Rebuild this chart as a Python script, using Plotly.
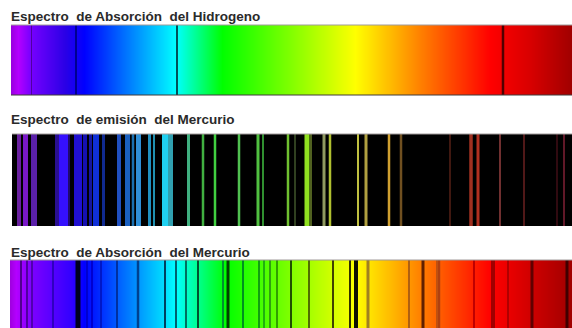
import plotly.graph_objects as go

titles = ["Espectro\u00a0 de Absorción\u00a0 del Hidrogeno",
          "Espectro\u00a0 de emisión\u00a0 del Mercurio",
          "Espectro\u00a0 de Absorción\u00a0 del Mercurio"]

# Hydrogen absorption
h_stops = [11, 18, 30, 65, 84, 130, 176, 222, 290, 355, 420, 490, 530, 572]
h_colors = ["#9a00e0", "#b400ff", "#7800ff", "#2a00e6", "#0000ff", "#0080ff", "#00ffff", "#00ff00",
            "#80ff00", "#ffff00", "#ff8000", "#ff0000", "#d80000", "#a00000"]
h_pos = [31.5, 76, 177, 503]
h_wid = [1, 1.5, 1.5, 2.5]
h_col = ["#5000a0", "#000090", "#00505a", "#500000"]

# Mercury emission
e_stops = [12, 572]
e_colors = ["#000000", "#000000"]
e_pos = [19, 25.5, 34, 57, 63.5, 69, 78, 85, 90.5, 96, 103.5, 119, 127.5, 133, 138.5, 149.5, 154,
         165, 170.5, 188.5, 203, 215, 239, 258, 263, 288, 295, 307, 311, 324, 330, 358, 366,
         389, 401, 450, 471, 478, 500, 524, 557, 564]
e_wid = [4, 5, 6, 4, 9, 2, 8, 4, 3, 6, 3, 4, 5, 2.5, 5, 3, 2, 6, 5, 3, 2.5, 2.5, 2.5, 3, 2, 2.5, 2, 5, 2,
         3, 2.5, 2, 3, 2.5, 2.5, 1.5, 3.5, 3, 2, 2, 1, 2]
e_col = ["#6a20a0", "#7a18c8", "#5a20a8", "#2a1090", "#3510ff", "#200a70", "#2010d0", "#1510b0", "#1515a0",
         "#1030d8", "#102a90", "#2050c0", "#1a60c0", "#1a70b0", "#3090d8", "#2090c0", "#2090b0",
         "#20d0f0", "#30a0b0", "#40b080", "#40b040", "#40d040", "#50c050", "#50c040", "#309030",
         "#70c030", "#304020", "#90e020", "#506020", "#909a60", "#b0c030", "#c0c040", "#b0a040",
         "#d0a030", "#705020", "#401810", "#a03020", "#b03020", "#703030", "#501818", "#300a10", "#601828"]

# Mercury absorption
m_stops = [10, 16, 30, 72, 84, 130, 176, 225, 290, 355, 420, 490, 530, 572]
m_colors = ["#a000e0", "#b400ff", "#8000ff", "#3000ff", "#0000ff", "#0080ff", "#00ffff", "#00ff00",
            "#80ff00", "#ffff00", "#ff8000", "#ff0000", "#d00000", "#a00000"]
m_pos = [21, 27, 32, 53, 78, 87, 92, 101, 117, 138, 165, 176, 186, 198, 223, 228, 243, 259, 264, 270, 277,
         291, 309, 333, 350, 356, 368, 409, 423, 437, 439.5, 474, 493, 508, 532, 567]
m_wid = [2, 1.5, 1.5, 1, 5, 1.5, 1, 1, 2, 2.5, 1, 2, 1.5, 1.5, 1, 3, 1, 1, 1, 1, 1, 2, 1, 2, 2, 4, 3, 2, 3,
         2, 1.5, 1, 4, 1, 3, 3]
m_col = ["#500090", "#5000a0", "#5000b0", "#3000c0", "#000020", "#0000d0", "#0000d0", "#0018c8", "#0030a0",
         "#004090", "#004060", "#006070", "#007060", "#005030", "#009030", "#004000", "#009020", "#10a010",
         "#20b010", "#30a010", "#30a000", "#205000", "#507000", "#404000", "#303000", "#101000", "#a08020",
         "#b06010", "#602000", "#c05010", "#b04010", "#c00000", "#a00000", "#b00000", "#600000", "#400000"]

W, H = 572, 328
panels = [
    (h_stops, h_colors, h_pos, h_wid, h_col, 25, 95, 11, 25),
    (e_stops, e_colors, e_pos, e_wid, e_col, 134, 226, 12, 128),
    (m_stops, m_colors, m_pos, m_wid, m_col, 260, 328, 10, 261),
]

fig = go.Figure()
layout = {}
shapes = []
annotations = []
for i, (stops, colors, pos, wid, col, top, bottom, left, base) in enumerate(panels):
    n = "" if i == 0 else str(i + 1)
    xa, ya = "x" + n, "y" + n
    span = stops[-1] - stops[0]
    scale = [[(s - stops[0]) / span, c] for s, c in zip(stops, colors)]
    fig.add_trace(go.Heatmap(x=stops, y=[0, 1], z=[stops, stops], colorscale=scale, showscale=False,
                             zsmooth="best", hoverinfo="skip", xaxis=xa, yaxis=ya))
    fig.add_trace(go.Bar(x=pos, y=[1] * len(pos), width=wid, marker=dict(color=col, line_width=0),
                         showlegend=False, xaxis=xa, yaxis=ya))
    layout["xaxis" + n] = dict(domain=[left / W, 1], range=[left, W], visible=False, anchor=ya)
    layout["yaxis" + n] = dict(domain=[1 - bottom / H, 1 - top / H], range=[0, 1], visible=False, anchor=xa)
    shapes.append(dict(type="line", xref="paper", yref="paper", x0=left / W, x1=1, y0=1 - top / H, y1=1 - top / H,
                       line=dict(color="#a09a9a", width=1)))
    if i == 0:
        shapes.append(dict(type="line", xref="paper", yref="paper", x0=left / W, x1=1,
                           y0=1 - bottom / H, y1=1 - bottom / H, line=dict(color="#403a3a", width=1)))
    annotations.append(dict(text="<b>" + titles[i] + "</b>", xref="paper", yref="paper", x=9.5 / W, y=1 - base / H,
                            xanchor="left", yanchor="bottom", showarrow=False, borderpad=0,
                            font=dict(family="Liberation Sans", size=13.5, color="#2a2a2a")))

fig.update_layout(width=W, height=H, margin=dict(l=0, r=0, t=0, b=0), paper_bgcolor="white", plot_bgcolor="white",
                  barmode="overlay", showlegend=False, shapes=shapes, annotations=annotations, **layout)
fig.write_html("out.html", config={"displayModeBar": False},
               post_script="document.body.style.margin='0';document.body.style.overflow='hidden';")
